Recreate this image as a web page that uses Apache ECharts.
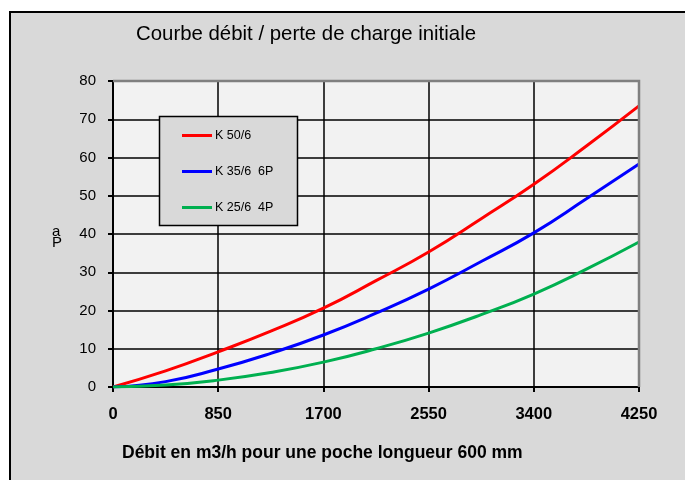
<!DOCTYPE html>
<html><head><meta charset="utf-8">
<script src="https://cdn.jsdelivr.net/npm/echarts@6/dist/echarts.min.js"></script>
<style>html,body{margin:0;padding:0;background:#fff}#c{width:685px;height:480px}</style>
</head><body><div id="c"></div>
<script>
const xValues = [0, 425, 850, 1275, 1700, 2125, 2550, 2975, 3400, 3825, 4250];
const k50 = [0, 4.2, 9.2, 14.6, 20.6, 27.8, 35.3, 44.0, 53.0, 63.0, 73.5];
const k35 = [0, 1.4, 4.7, 8.8, 13.6, 19.3, 25.6, 32.8, 40.3, 49.2, 58.3];
const k25 = [0, 0.5, 1.8, 3.8, 6.5, 10.0, 14.1, 18.9, 24.3, 30.8, 37.9];
const seriesNames = ['K 50/6', 'K 35/6  6P', 'K 25/6  4P'];
const xTicks = [0, 850, 1700, 2550, 3400, 4250];
const yTicks = [0, 10, 20, 30, 40, 50, 60, 70, 80];

const pair = (ys) => xValues.map((x, i) => [x, ys[i]]);
const font = 'Liberation Sans, Arial, sans-serif';
const chart = echarts.init(document.getElementById('c'), null, {renderer: 'canvas'});
const mk = (name, ys, color) => ({
  name, type: 'line', data: pair(ys), smooth: true, showSymbol: false, symbol: 'none',
  lineStyle: {color, width: 3}, itemStyle: {color}, z: 5
});
chart.setOption({
  backgroundColor: '#ffffff',
  animation: false,
  title: {
    text: 'Courbe débit / perte de charge initiale', left: 301, textAlign: 'center', top: 19,
    textStyle: {fontFamily: font, fontSize: 20.4, fontWeight: 'normal', color: '#000'}
  },
  grid: {left: 113, right: 46, top: 81, bottom: 93, show: true, backgroundColor: '#f2f2f2', borderWidth: 0},
  xAxis: {
    type: 'value', min: xTicks[0], max: xTicks[xTicks.length - 1], interval: xTicks[1] - xTicks[0],
    name: 'Débit en m3/h pour une poche longueur 600 mm', nameLocation: 'start',
    nameGap: 0,
    nameTextStyle: {fontFamily: font, fontSize: 17.5, fontWeight: 'bold', color: '#000', align: 'left', verticalAlign: 'top', padding: [57, 0, 0, 9]},
    axisLine: {lineStyle: {color: '#000', width: 2}},
    axisTick: {show: true, length: 5, lineStyle: {color: '#000', width: 2}},
    axisLabel: {fontFamily: font, fontSize: 16.5, fontWeight: 'bold', color: '#000', margin: 19, formatter: (v) => String(v)},
    splitLine: {show: true, lineStyle: {color: '#000', width: 1.5}}
  },
  yAxis: {
    type: 'value', min: yTicks[0], max: yTicks[yTicks.length - 1], interval: yTicks[1] - yTicks[0],
    axisLine: {show: true, lineStyle: {color: '#000', width: 2}},
    axisTick: {show: true, length: 5, lineStyle: {color: '#000', width: 2}},
    axisLabel: {fontFamily: font, fontSize: 15, color: '#000', margin: 17},
    splitLine: {show: true, lineStyle: {color: '#000', width: 1.5}}
  },
  legend: {
    data: seriesNames, orient: 'vertical', left: 182, top: 129, itemGap: 23,
    icon: 'rect', itemWidth: 30, itemHeight: 3, padding: 0, z: 30,
    textStyle: {fontFamily: font, fontSize: 12.5, color: '#000', padding: [0, 0, 0, -2]}
  },
  graphic: [
    {type: 'rect', shape: {x: 10, y: 12, width: 700, height: 500}, style: {fill: '#d9d9d9', stroke: '#000', lineWidth: 2}, z: -10, silent: true},
    {type: 'polyline', shape: {points: [[113, 81], [639, 81], [639, 387]]}, style: {stroke: '#808080', lineWidth: 2.5, fill: null}, z: 20, silent: true},
    {type: 'rect', shape: {x: 159.5, y: 116.5, width: 138, height: 109}, style: {fill: '#d9d9d9', stroke: '#000', lineWidth: 1.5}, z: 25, silent: true},
    {type: 'text', left: 52, top: 224, style: {text: 'a\nP', fontFamily: font, fontSize: 15, lineHeight: 11, fill: '#000'}, z: 25, silent: true}
  ],
  series: [mk(seriesNames[0], k50, '#ff0000'), mk(seriesNames[1], k35, '#0000ff'), mk(seriesNames[2], k25, '#00b050')]
});
</script></body></html>
